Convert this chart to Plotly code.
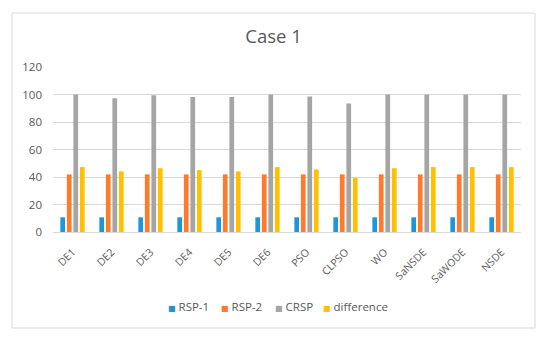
import plotly.graph_objects as go

categories = ["DE1", "DE2", "DE3", "DE4", "DE5", "DE6", "PSO", "CLPSO", "WO", "SaNSDE", "SaWODE", "NSDE"]
rsp1 = [10.7, 10.7, 10.7, 10.7, 10.7, 10.7, 10.7, 10.7, 10.7, 10.7, 10.7, 10.7]
rsp2 = [41.9, 41.9, 41.9, 41.9, 41.9, 41.9, 41.9, 41.9, 41.9, 41.9, 41.9, 41.9]
crsp = [100, 97.2, 99.5, 98.1, 98.1, 100, 98.6, 93.4, 100, 100, 100, 100]
difference = [47.2, 44.1, 46.4, 45.0, 44.1, 47.2, 45.5, 39.5, 46.4, 47.2, 47.2, 47.2]
y_ticks = [0, 20, 40, 60, 80, 100, 120]

series_names = ["RSP-1", "RSP-2", "CRSP", "difference"]
series_values = [rsp1, rsp2, crsp, difference]
series_colors = ["#1E96D8", "#FF7A2A", "#A5A5A5", "#FFC000"]

font_family = "Open Sans, Noto Sans, DejaVu Sans, sans-serif"
txt = "#595959"

fig = go.Figure()
for name, vals, col in zip(series_names, series_values, series_colors):
    fig.add_trace(go.Bar(x=categories, y=vals, name=name, showlegend=False,
                         marker=dict(color=col, line=dict(width=0))))

W, H = 550, 339
L, R, T, B = 53, 29, 67, 107
ph = H - T - B
pw = W - L - R

def px_x(x):
    return (x - L) / pw

def px_y(y):
    return (H - B - y) / ph

# legend drawn as text annotations (compact Excel-like legend)
legend_x = [166, 219, 273, 321]
annotations = []
for name, col, lx in zip(series_names, series_colors, legend_x):
    annotations.append(dict(
        text=f"<span style='color:{col};font-size:8px'>■</span> {name}",
        x=px_x(lx), y=px_y(306.5), xref="paper", yref="paper",
        xanchor="left", yanchor="middle", showarrow=False,
        font=dict(size=11.5, color=txt, family=font_family)))

fig.update_layout(
    width=W, height=H,
    margin=dict(l=L, r=R, t=T, b=B, autoexpand=False),
    paper_bgcolor="white", plot_bgcolor="white",
    barmode="group", bargap=0.33, bargroupgap=0.28,
    font=dict(family=font_family, color=txt, size=11),
    showlegend=False,
    title=dict(text="Case 1", x=273.5 / W, xanchor="center", xref="container",
               y=1 - 37 / H, yanchor="middle", yref="container",
               font=dict(size=18.5, color=txt, family=font_family)),
    xaxis=dict(tickangle=-45, showgrid=False, showline=True, linecolor="#D9D9D9",
               linewidth=1, ticks="", automargin=False, ticklabelstandoff=9,
               tickfont=dict(size=10.5, color=txt)),
    yaxis=dict(range=[0, 120], tickvals=y_ticks, showgrid=True, gridcolor="#D9D9D9",
               gridwidth=1, zeroline=False, showline=False, ticks="", automargin=False,
               tickfont=dict(size=11.5, color=txt), ticklabelstandoff=10),
    annotations=annotations,
    shapes=[dict(type="rect", xref="paper", yref="paper",
                 x0=px_x(12), x1=px_x(535), y0=px_y(328), y1=px_y(13),
                 line=dict(color="#D9D9D9", width=1), fillcolor="rgba(0,0,0,0)", layer="below")],
)

fig.write_html("out.html", config={"displayModeBar": False},
               post_script="document.body.style.margin='0';document.body.style.overflow='hidden';")
